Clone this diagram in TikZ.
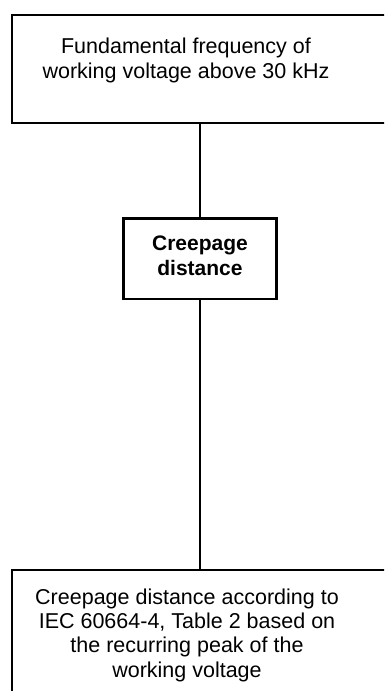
\documentclass[tikz,border=0pt]{standalone}
\usepackage{fontspec}
\setmainfont{Liberation Sans}
\usetikzlibrary{positioning}

\begin{document}
\begin{tikzpicture}[
  x=1pt, y=-1pt,
  font=\fontsize{21.5pt}{24.5pt}\selectfont,
  every node/.style={align=center},
  box/.style={draw, line width=2.3pt, inner sep=0pt},
  txt/.style={inner sep=0pt, anchor=base},
  link/.style={line width=2.3pt},
]
  \useasboundingbox (0,0) rectangle (384,691);
  \clip (0,0) rectangle (384,691);

  % the outer boxes run off the right and bottom edge
  \node[box, anchor=north west, minimum width=420pt, minimum height=108pt] (freq) at (11,13.7) {};
  \node[txt] (freqtxt) at (186,78.3) {Fundamental frequency of\\working voltage above 30 kHz};

  \node[box, minimum width=153pt, minimum height=80.5pt] (crp) at (200,258.75) {};
  \node[txt, font=\fontsize{21pt}{25pt}\selectfont\bfseries] (crptxt) at (200,275.5) {Creepage\\distance};

  \node[box, anchor=north west, minimum width=420pt, minimum height=200pt] (iec) at (11,568.5) {};
  \node[txt, font=\fontsize{21.5pt}{24.3pt}\selectfont] (iectxt) at (187,677) {Creepage distance according to\\IEC 60664-4, Table 2 based on\\the recurring peak of the\\working voltage};

  \draw[link] (crp.north) -- (crp.north |- freq.south);
  \draw[link] (crp.south) -- (crp.south |- iec.north);
\end{tikzpicture}
\end{document}
